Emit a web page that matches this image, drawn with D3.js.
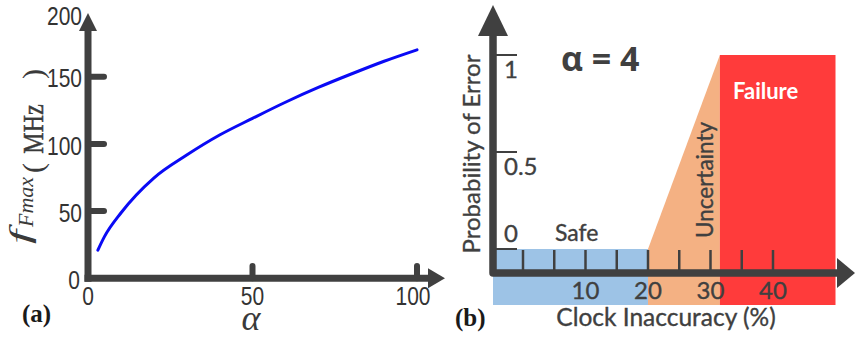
<!DOCTYPE html>
<html>
<head>
<meta charset="utf-8">
<script src="https://cdn.jsdelivr.net/npm/d3@7"></script>
<style>
  html, body { margin: 0; padding: 0; background: #fff; }
  svg { display: block; }
</style>
</head>
<body>
<svg id="chart" width="856" height="338"></svg>
<script>
// ---- Panel (a): maximum frequency versus alpha ----
const alphaVals = [3, 5, 10, 20, 30, 40, 50, 60, 70, 80, 90, 100];
const fmaxVals  = [21, 31, 48.6, 74.6, 91.7, 106.6, 119, 131, 142, 152, 161.5, 170];
const fmaxTicks = [0, 50, 100, 150, 200];
const alphaTicks = [0, 50, 100];

// ---- Panel (b): probability of error versus clock inaccuracy ----
const probTicks = [0, 0.5, 1];
const probTickLabels = ["0", "0.5", "1"];
const inaccTicks = [0, 5, 10, 15, 20, 25, 30, 35, 40];
const inaccLabels = [10, 20, 30, 40];
const zoneNames = ["Safe", "Uncertainty", "Failure"];
const zoneBounds = [[-4.8, 20], [20, 31.5], [31.5, 50]];
const zoneColors = ["#9dc3e6", "#f4b183", "#ff3b3b"];
const alphaSetting = 4;

const svg = d3.select("#chart");
const AX = "#404040";

// ===================== Panel (a) =====================
const xa = d3.scaleLinear().domain([0, 100]).range([88, 417]);
const ya = d3.scaleLinear().domain([0, 150]).range([278.3, 76.7]);
const ga = svg.append("g");

// curve
ga.append("path")
  .datum(alphaVals.map((a, i) => [a, fmaxVals[i]]))
  .attr("fill", "none")
  .attr("stroke", "#0a0af5")
  .attr("stroke-width", 3)
  .attr("stroke-linecap", "round")
  .attr("d", d3.line().x(d => xa(d[0])).y(d => ya(d[1])).curve(d3.curveMonotoneX));

// axes lines
ga.append("line").attr("x1", xa(0)).attr("x2", xa(0)).attr("y1", ya(0) + 3.5).attr("y2", 28)
  .attr("stroke", AX).attr("stroke-width", 7);
ga.append("line").attr("x1", xa(0) - 3.5).attr("x2", 430).attr("y1", ya(0)).attr("y2", ya(0))
  .attr("stroke", AX).attr("stroke-width", 7);
// arrowheads
ga.append("path").attr("fill", AX)
  .attr("d", `M${xa(0)},13 L${xa(0) + 9},31 L${xa(0) - 9},31 Z`);
ga.append("path").attr("fill", AX)
  .attr("d", `M445,${ya(0)} L428,${ya(0) - 10} L428,${ya(0) + 10} Z`);

// ticks
fmaxTicks.filter(v => v > 0 && v < 200).forEach(v => {
  ga.append("line").attr("x1", xa(0)).attr("x2", 104).attr("y1", ya(v)).attr("y2", ya(v))
    .attr("stroke", AX).attr("stroke-width", 6).attr("stroke-linecap", "round");
});
alphaTicks.filter(v => v > 0).forEach(v => {
  ga.append("line").attr("x1", xa(v)).attr("x2", xa(v)).attr("y1", ya(0)).attr("y2", 266)
    .attr("stroke", AX).attr("stroke-width", 6).attr("stroke-linecap", "round");
});

// tick labels (condensed sans)
const tickFontA = "'Liberation Sans', Arial, sans-serif";
fmaxTicks.forEach(v => {
  ga.append("text")
    .attr("transform", `translate(${v === 0 ? 80 : 82},${v === 200 ? 16 : ya(v) + 2}) scale(0.84,1)`)
    .attr("text-anchor", "end").attr("dominant-baseline", "central")
    .attr("font-family", tickFontA).attr("font-size", 25).attr("fill", "#333")
    .text(v);
});
alphaTicks.forEach(v => {
  ga.append("text")
    .attr("transform", `translate(${v === 100 ? 413 : xa(v)},296) scale(0.84,1)`)
    .attr("text-anchor", "middle").attr("dominant-baseline", "central")
    .attr("font-family", tickFontA).attr("font-size", 25).attr("fill", "#333")
    .text(v);
});

// y axis title: f with subscript, then the unit in brackets
const serif = "'Liberation Serif', 'Times New Roman', serif";
const TT = "#3a3a3a";
ga.append("text")
  .attr("transform", "translate(30,237) rotate(-90) scale(1.7,1)")
  .attr("text-anchor", "middle")
  .attr("font-family", serif).attr("font-style", "italic").attr("font-size", 30)
  .attr("fill", TT).text("f");
ga.append("text")
  .attr("transform", "translate(33,227) rotate(-90)")
  .attr("font-family", serif).attr("font-style", "italic").attr("font-size", 22)
  .attr("fill", TT).text("Fmax");
const unit = ga.append("g").attr("transform", "translate(43,0) rotate(-90)")
  .attr("font-family", serif).attr("font-size", 30).attr("fill", TT);
unit.append("text").attr("x", -168).attr("y", 0).attr("text-anchor", "middle").text("(");
unit.append("text").attr("transform", "translate(-129,0) scale(0.8,1)").attr("text-anchor", "middle")
  .attr("stroke", TT).attr("stroke-width", 0.5)
  .text("MHz");
unit.append("text").attr("x", -74).attr("y", 0).attr("text-anchor", "middle").text(")");

ga.append("text").attr("x", 251).attr("y", 330).attr("text-anchor", "middle")
  .attr("font-family", serif)
  .attr("font-style", "italic").attr("font-size", 36).attr("fill", TT)
  .text("α");

ga.append("text").attr("x", 22).attr("y", 322)
  .attr("font-family", serif)
  .attr("font-weight", "bold").attr("font-size", 25).attr("fill", "#1a1a1a")
  .text("(a)");

// ===================== Panel (b) =====================
const xb = d3.scaleLinear().domain([-4.8, 40]).range([493, 773]);
const yb = d3.scaleLinear().domain([0, 1]).range([249, 55]);
const gb = svg.append("g");
const bandBottom = 305;
const fontB = "Lato, 'Open Sans', 'Noto Sans', sans-serif";
const TW = 0.35; // slight stroke to give the labels a medium weight

// zones
gb.append("rect").attr("x", xb(zoneBounds[0][0])).attr("y", yb(0))
  .attr("width", xb(zoneBounds[0][1]) - xb(zoneBounds[0][0])).attr("height", bandBottom - yb(0))
  .attr("fill", zoneColors[0]);
gb.append("path").attr("fill", zoneColors[1])
  .attr("d", `M${xb(zoneBounds[1][0])},${yb(0)} L${xb(zoneBounds[1][1])},${yb(1)} L${xb(zoneBounds[1][1])},${bandBottom} L${xb(zoneBounds[1][0])},${bandBottom} Z`);
gb.append("rect").attr("x", xb(zoneBounds[2][0])).attr("y", yb(1))
  .attr("width", xb(zoneBounds[2][1]) - xb(zoneBounds[2][0])).attr("height", bandBottom - yb(1))
  .attr("fill", zoneColors[2]);

// probability ticks
probTicks.forEach(v => {
  gb.append("line").attr("x1", 493).attr("x2", 517).attr("y1", yb(v)).attr("y2", yb(v))
    .attr("stroke", AX).attr("stroke-width", 2);
});
probTicks.forEach((v, i) => {
  gb.append("text").attr("x", 504).attr("y", v === 0 ? yb(v) - 7 : yb(v) + 23)
    .attr("font-family", fontB).attr("font-size", 24).attr("fill", AX)
    .attr("stroke", AX).attr("stroke-width", TW)
    .text(probTickLabels[i]);
});

// inaccuracy ticks
inaccTicks.forEach(v => {
  gb.append("line").attr("x1", xb(v)).attr("x2", xb(v)).attr("y1", yb(0) + 1).attr("y2", 273)
    .attr("stroke", AX).attr("stroke-width", 2.5);
});
inaccLabels.forEach(v => {
  gb.append("text").attr("x", xb(v)).attr("y", 299).attr("text-anchor", "middle")
    .attr("font-family", fontB).attr("font-size", 24).attr("fill", AX)
    .attr("stroke", AX).attr("stroke-width", TW)
    .text(v);
});

// axes
gb.append("path").attr("fill", "none").attr("stroke", AX).attr("stroke-width", 7.5)
  .attr("stroke-linejoin", "round")
  .attr("d", `M493,33 L493,273 L840,273`);
gb.append("path").attr("fill", AX).attr("d", `M493,5 L508,36 L478,36 Z`);
gb.append("path").attr("fill", AX).attr("d", `M855,273 L837,258 L837,288 Z`);

// zone labels
gb.append("text").attr("x", 555).attr("y", 241)
  .attr("font-family", fontB).attr("font-size", 23).attr("fill", AX)
  .attr("stroke", AX).attr("stroke-width", TW).text(zoneNames[0]);
gb.append("text").attr("transform", "translate(713,180) rotate(-90)").attr("text-anchor", "middle")
  .attr("font-family", fontB).attr("font-size", 22.5).attr("fill", AX)
  .attr("stroke", AX).attr("stroke-width", TW).text(zoneNames[1]);
gb.append("text").attr("x", 733).attr("y", 99)
  .attr("font-family", fontB).attr("font-weight", "bold").attr("font-size", 22).attr("fill", "#fff")
  .text(zoneNames[2]);

// title
gb.append("text").attr("x", 561).attr("y", 71)
  .attr("font-family", "'Open Sans', 'Noto Sans', sans-serif").attr("font-weight", "bold")
  .attr("font-size", 34).attr("fill", AX)
  .text(`α = ${alphaSetting}`);

// axis titles
gb.append("text").attr("transform", "translate(480,154) rotate(-90)").attr("text-anchor", "middle")
  .attr("font-family", fontB).attr("font-size", 24).attr("fill", AX)
  .attr("stroke", AX).attr("stroke-width", TW)
  .text("Probability of Error");
gb.append("text").attr("x", 666).attr("y", 326).attr("text-anchor", "middle")
  .attr("font-family", fontB).attr("font-size", 24.5).attr("fill", AX)
  .attr("stroke", AX).attr("stroke-width", TW)
  .text("Clock Inaccuracy (%)");

gb.append("text").attr("x", 455).attr("y", 326)
  .attr("font-family", serif)
  .attr("font-weight", "bold").attr("font-size", 25).attr("fill", "#1a1a1a")
  .text("(b)");
</script>
</body>
</html>
